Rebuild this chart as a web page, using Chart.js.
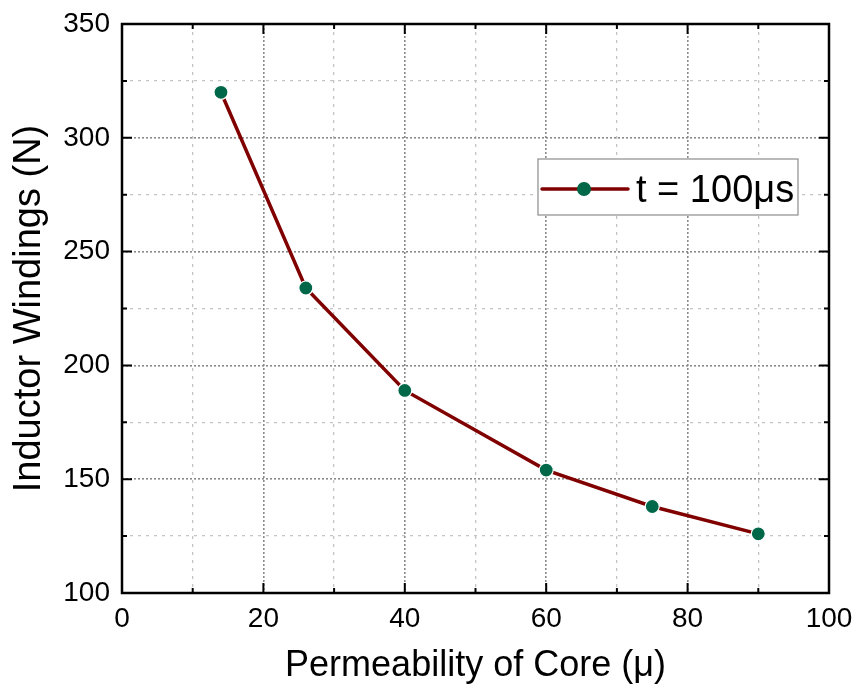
<!DOCTYPE html>
<html>
<head>
<meta charset="utf-8">
<script src="https://cdn.jsdelivr.net/npm/chart.js@4"></script>
<style>
  html, body { margin: 0; padding: 0; background: #fff; }
  #wrap { width: 856px; height: 690px; }
</style>
</head>
<body>
<div id="wrap"><canvas id="canvas"></canvas></div>
<script>
// data
const permeability = [14, 26, 40, 60, 75, 90];
const windings = [320, 234, 189, 154, 138, 126];
const seriesLabel = 't = 100\u03bcs';
const xTitle = 'Permeability of Core (\u03bc)';
const yTitle = 'Inductor Windings (N)';
const xMajor = [0, 20, 40, 60, 80, 100];
const yMajor = [100, 150, 200, 250, 300, 350];

const FONT = "'Liberation Sans', Arial, sans-serif";
const lineColor = '#800000';
const dotColor = '#006848';

// frame + inward ticks on all four sides
const framePlugin = {
  id: 'frame',
  afterDraw(chart) {
    const c = chart.ctx, a = chart.chartArea;
    const xs = chart.scales.x, ys = chart.scales.y;
    c.save();
    c.strokeStyle = '#000';
    c.lineWidth = 2;
    xs.ticks.forEach(t => {
      const px = xs.getPixelForValue(t.value);
      const len = xMajor.includes(t.value) ? 10 : 5;
      c.beginPath();
      c.moveTo(px, a.bottom); c.lineTo(px, a.bottom - len);
      c.moveTo(px, a.top); c.lineTo(px, a.top + len);
      c.stroke();
    });
    ys.ticks.forEach(t => {
      const py = ys.getPixelForValue(t.value);
      const len = yMajor.includes(t.value) ? 10 : 5;
      c.beginPath();
      c.moveTo(a.left, py); c.lineTo(a.left + len, py);
      c.moveTo(a.right, py); c.lineTo(a.right - len, py);
      c.stroke();
    });
    c.lineWidth = 2.5;
    c.strokeRect(a.left, a.top, a.right - a.left, a.bottom - a.top);
    c.restore();
  }
};

// legend box inside the plot
const legendPlugin = {
  id: 'boxLegend',
  afterDraw(chart) {
    const c = chart.ctx;
    const ds = chart.data.datasets[0];
    const bx = 538, by = 159, bw = 260, bh = 56;
    c.save();
    c.fillStyle = '#fff';
    c.fillRect(bx, by, bw, bh);
    c.strokeStyle = '#8c8c8c';
    c.lineWidth = 1.2;
    c.strokeRect(bx, by, bw, bh);
    const ly = by + 30;
    c.strokeStyle = ds.borderColor;
    c.lineWidth = 3.5;
    c.lineCap = 'round';
    c.beginPath(); c.moveTo(bx + 4, ly); c.lineTo(bx + 90, ly); c.stroke();
    c.beginPath(); c.arc(bx + 46, ly, 7, 0, Math.PI * 2);
    c.fillStyle = ds.pointBackgroundColor; c.fill();
    c.fillStyle = '#000';
    c.font = '38px ' + FONT;
    c.textBaseline = 'alphabetic';
    c.fillText(ds.label, bx + 98, by + 43);
    c.restore();
  }
};

new Chart(document.getElementById('canvas'), {
  type: 'scatter',
  data: {
    datasets: [{
      label: seriesLabel,
      data: permeability.map((x, i) => ({ x: x, y: windings[i] })),
      showLine: true,
      borderColor: lineColor,
      borderWidth: 3.5,
      tension: 0,
      pointRadius: 7,
      pointBackgroundColor: dotColor,
      pointBorderColor: '#fff',
      pointBorderWidth: 1.2
    }]
  },
  options: {
    responsive: true,
    maintainAspectRatio: false,
    animation: false,
    layout: { padding: { top: 24, right: 27, left: 0, bottom: 0 } },
    plugins: { legend: { display: false }, tooltip: { enabled: false } },
    scales: {
      x: {
        type: 'linear', min: 0, max: 100,
        afterFit: s => { s.height = 97; s.paddingLeft = 0; s.paddingRight = 0; },
        ticks: {
          stepSize: 10, autoSkip: false, maxRotation: 0, padding: 9,
          color: '#000', font: { family: FONT, size: 28 },
          callback: v => xMajor.includes(v) ? v : ''
        },
        grid: {
          drawTicks: false,
          color: ctx => xMajor.includes(ctx.tick.value) ? '#8a8a8a' : '#c4c4c4',
          lineWidth: ctx => xMajor.includes(ctx.tick.value) ? 1.6 : 1.3
        },
        border: {
          display: false,
          dash: ctx => xMajor.includes(ctx.tick.value) ? [2, 2] : [3, 5]
        },
        title: {
          display: true, text: xTitle, color: '#000',
          font: { family: FONT, size: 36 },
          padding: { top: 0, bottom: 2 }
        }
      },
      y: {
        type: 'linear', min: 100, max: 350,
        afterFit: s => { s.width = 122; s.paddingTop = 0; s.paddingBottom = 0; },
        ticks: {
          stepSize: 25, autoSkip: false, padding: 12,
          color: '#000', font: { family: FONT, size: 28 },
          callback: v => yMajor.includes(v) ? v : ''
        },
        grid: {
          drawTicks: false,
          color: ctx => yMajor.includes(ctx.tick.value) ? '#8a8a8a' : '#c4c4c4',
          lineWidth: ctx => yMajor.includes(ctx.tick.value) ? 1.6 : 1.3
        },
        border: {
          display: false,
          dash: ctx => yMajor.includes(ctx.tick.value) ? [2, 2] : [3, 5]
        },
        title: {
          display: true, text: yTitle, color: '#000',
          font: { family: FONT, size: 38 },
          padding: { top: 7, bottom: 0 }
        }
      }
    }
  },
  plugins: [framePlugin, legendPlugin]
});
</script>
</body>
</html>
